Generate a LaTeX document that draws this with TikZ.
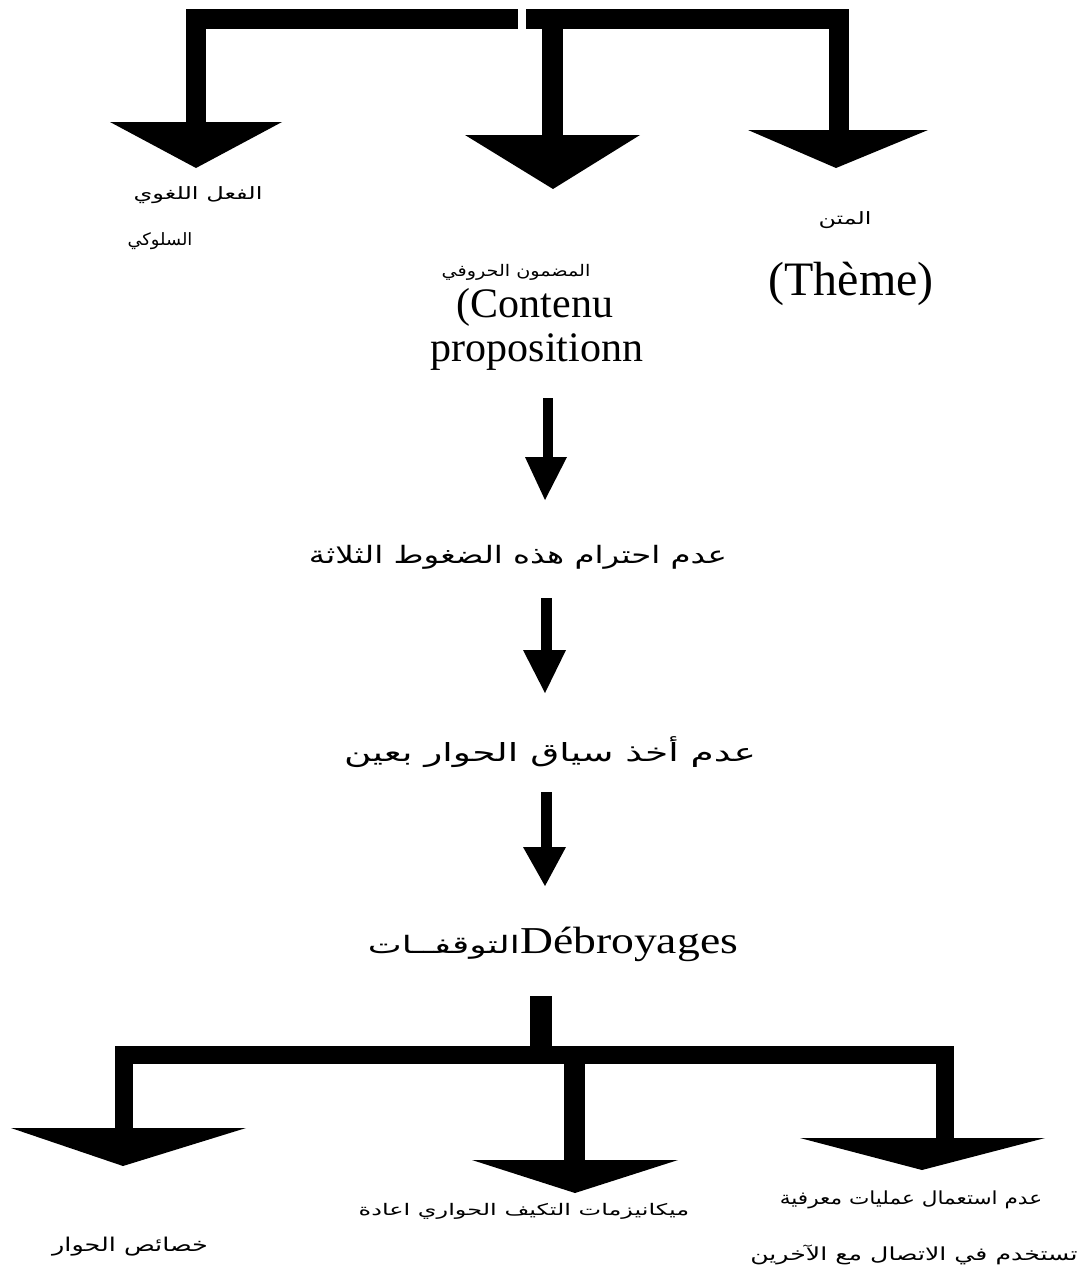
\documentclass[tikz,border=0pt]{standalone}
\usepackage{fontspec}
\setmainfont{Liberation Serif}
\newfontfamily\arabicfont[Script=Arabic]{DejaVu Sans}
\TeXXeTstate=1
% stretch a line horizontally by #1
\newcommand{\hstretch}[2]{\scalebox{#1}[1]{#2}}
\begin{document}
\begin{tikzpicture}[x=1pt,y=-1pt,
  arlabel/.style={inner sep=0pt,font=\arabicfont\fontsize{#1}{#1}\selectfont},
  latlabel/.style={inner sep=0pt,font=\fontsize{#1}{#1}\selectfont},
  barline/.style={line width=#1,line join=miter,line cap=butt},
  head/.style={fill=black}]
\fill[white] (0,0) rectangle (1090,1282);
\useasboundingbox (0,0) rectangle (1090,1282);

% ---------- top bracket ----------
\coordinate (tL) at (196,122);
\coordinate (tM) at (552,135);
\coordinate (tR) at (839,130);
\draw[barline=20pt] (tL) |- (518,19);
\draw[barline=20pt] (526,19) -| (tR);
\draw[barline=21pt] (552,28) -- (tM);
\fill[head] (110,122) -- (282,122) -- (196,168) -- cycle;
\fill[head] (465,135) -- (640,135) -- (553,189) -- cycle;
\fill[head] (748,130) -- (928,130) -- (836,168) -- cycle;

% ---------- top labels ----------
\node[arlabel=17] (a1) at (198,195) {\hstretch{1.42}{\beginR الفعل اللغوي\endR}};
\node[arlabel=17] (a2) at (160,241) {\hstretch{1.05}{\beginR السلوكي\endR}};
\node[arlabel=16] (b1) at (516,272) {\hstretch{1.2}{\beginR المضمون الحروفي\endR}};
\node[latlabel=42] (b2) at (535,307) {(Contenu};
\node[latlabel=42] (b3) at (537,352) {propositionn};
\node[arlabel=17] (c1) at (845,220) {\hstretch{1.4}{\beginR المتن\endR}};
\node[latlabel=48] (c2) at (851,284) {(Thème)};

% ---------- central chain ----------
\node[arlabel=24] (m1) at (518,557) {\hstretch{1.35}{\beginR عدم احترام هذه الضغوط الثلاثة\endR}};
\node[arlabel=25] (m2) at (550,752) {\hstretch{1.5}{\beginR عدم أخذ سياق الحوار بعين\endR}};
\node[arlabel=24,anchor=base east] (m3a) at (520,953) {\hstretch{1.5}{\beginR التوقفــات\endR}};
\node[latlabel=38,anchor=base west] (m3b) at (520,953) {\hstretch{1.2}{Débroyages}};

\draw[barline=10pt] (548,398) -- (548,458);
\fill[head] (525,457) -- (567,457) -- (545,500) -- cycle;
\draw[barline=11pt] (546,598) -- (546,651);
\fill[head] (523,650) -- (566,650) -- (545,693) -- cycle;
\draw[barline=11pt] (546,792) -- (546,848);
\fill[head] (523,847) -- (566,847) -- (545,886) -- cycle;

% ---------- bottom bracket ----------
\coordinate (bT) at (541,996);
\coordinate (bL) at (124,1128);
\coordinate (bM) at (574,1160);
\coordinate (bR) at (945,1138);
\draw[barline=22pt] (bT) -- (541,1047);
\draw[barline=18pt] (bL) |- (945,1055) -- (bR);
\draw[barline=21pt] (574,1055) -- (bM);
\fill[head] (11,1128) -- (246,1128) -- (123,1166) -- cycle;
\fill[head] (472,1160) -- (678,1160) -- (575,1193) -- cycle;
\fill[head] (800,1138) -- (1045,1138) -- (922,1170) -- cycle;

% ---------- bottom labels ----------
\node[arlabel=19] (d1) at (130,1247) {\hstretch{1.34}{\beginR خصائص الحوار\endR}};
\node[arlabel=16] (e1) at (524,1211) {\hstretch{1.5}{\beginR ميكانيزمات التكيف الحواري اعادة\endR}};
\node[arlabel=18] (f1) at (911,1200) {\hstretch{1.2}{\beginR عدم استعمال عمليات معرفية\endR}};
\node[arlabel=18] (f2) at (914,1255) {\hstretch{1.4}{\beginR تستخدم في الاتصال مع الآخرين\endR}};
\end{tikzpicture}
\end{document}
